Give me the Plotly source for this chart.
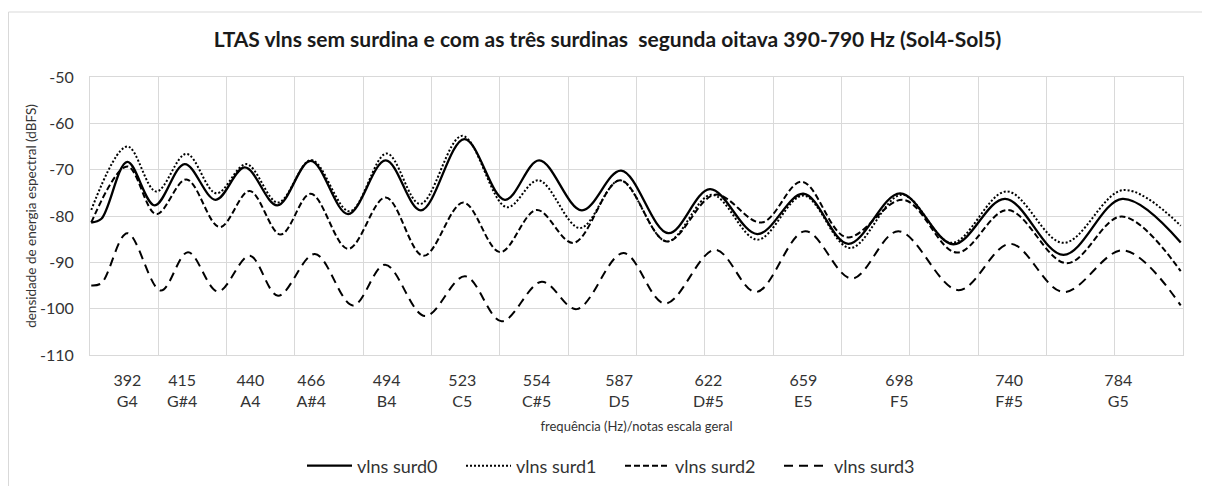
import plotly.graph_objects as go

# ---- data (frequency in Hz, level in dBFS) ----
surd0_f = [377.3, 381.3, 391.5, 402.3, 414.1, 426.3, 437.8, 450.6, 463.8, 478.5, 493.3, 507.2, 524.3, 540.3,
           553.8, 570.6, 586.1, 604.7, 621.1, 639.8, 657.9, 675.6, 696.0, 717.0, 737.4, 760.4, 783.6, 806.6]
surd0_db = [-81.4, -80.6, -68.3, -77.7, -68.8, -76.5, -69.5, -77.7, -68.1, -79.6, -68.0, -78.8, -63.4, -76.5,
            -68.0, -78.8, -70.2, -83.7, -74.2, -83.9, -75.2, -86.0, -75.1, -86.1, -76.3, -88.4, -76.3, -85.7]

surd1_f = [377.3, 391.5, 402.9, 414.8, 426.6, 438.4, 450.9, 464.0, 479.1, 493.7, 506.9, 523.5, 541.0, 553.5,
           569.9, 585.7, 604.1, 621.8, 639.8, 657.9, 676.3, 696.7, 716.4, 738.0, 760.4, 784.0, 806.6]
surd1_db = [-78.7, -65.0, -74.7, -66.6, -75.1, -68.8, -77.1, -67.9, -79.0, -66.5, -77.4, -62.7, -78.1, -72.3,
            -82.6, -72.3, -85.5, -75.4, -85.1, -75.6, -86.9, -75.4, -85.8, -74.7, -85.8, -74.4, -82.1]

surd2_f = [377.3, 391.5, 402.9, 414.8, 427.9, 439.7, 451.9, 463.8, 478.5, 493.3, 508.2, 523.9, 538.4, 552.8,
           567.3, 585.7, 604.1, 623.1, 641.5, 657.3, 675.0, 697.3, 718.4, 738.4, 761.7, 783.4, 806.6]
surd2_db = [-81.4, -69.3, -79.6, -72.1, -82.4, -74.6, -84.0, -75.2, -87.1, -76.0, -88.6, -77.1, -87.8, -78.7,
            -85.8, -72.3, -85.5, -75.4, -81.4, -72.6, -84.6, -76.5, -87.9, -78.7, -90.2, -80.1, -91.9]

surd3_f = [377.3, 381.3, 391.5, 404.7, 415.4, 427.2, 439.7, 450.9, 465.4, 480.4, 493.1, 508.8, 524.6, 539.0,
           554.8, 568.6, 587.0, 603.4, 623.1, 639.3, 658.6, 677.0, 695.3, 719.0, 739.4, 760.4, 784.0, 806.6]
surd3_db = [-95.0, -94.5, -83.7, -96.1, -87.8, -96.3, -88.6, -97.2, -88.2, -99.3, -90.5, -101.6, -93.0, -102.7,
            -94.2, -100.1, -88.0, -98.9, -87.3, -96.4, -83.3, -93.5, -83.3, -96.0, -86.0, -96.4, -87.4, -99.3]

# category labels: nominal frequency, note name, and the frequency bin they sit on
label_hz = ["392", "415", "440", "466", "494", "523", "554", "587", "622", "659", "698", "740", "784"]
label_note = ["G4", "G#4", "A4", "A#4", "B4", "C5", "C#5", "D5", "D#5", "E5", "F5", "F#5", "G5"]
label_bin_f = [391.5, 413.1, 440.0, 464.0, 493.7, 523.5, 552.8, 585.3, 620.5, 657.9, 695.7, 739.0, 782.0]

y_ticks = [-110, -100, -90, -80, -70, -60, -50]

series_names = ["vlns surd0", "vlns surd1", "vlns surd2", "vlns surd3"]

# ---- figure ----
FONT = "Lato"
TXT = "#333333"
GRID = "#d9d9d9"
x_lo, x_hi, x_step = 376.8, 807.5, 26.917

ML, MT, PW, PH = 82, 69, 1093, 278  # plot area (page body adds an 8px offset)

fig = go.Figure()
styles = [
    dict(dash="solid", width=2.3),
    dict(dash="2px,2px", width=2),
    dict(dash="6px,3px", width=2),
    dict(dash="9px,6px", width=2),
]
for name, fx, fy, st in zip(series_names, [surd0_f, surd1_f, surd2_f, surd3_f],
                            [surd0_db, surd1_db, surd2_db, surd3_db], styles):
    fig.add_trace(go.Scatter(x=fx, y=fy, name=name, mode="lines",
                             line=dict(color="black", shape="spline", smoothing=1.0, **st),
                             hoverinfo="skip"))

# invisible trace on the label axis so it is rendered
fig.add_trace(go.Scatter(x=[x_lo, x_hi], y=[-110, -110], xaxis="x2", mode="lines",
                         line=dict(color="rgba(0,0,0,0)"), showlegend=False, hoverinfo="skip"))

fig.update_layout(
    width=1210, height=486,
    margin=dict(l=ML, r=1210 - ML - PW, t=MT, b=486 - MT - PH, autoexpand=False),
    paper_bgcolor="white", plot_bgcolor="white",
    font=dict(family=FONT, color=TXT),
    title=dict(text="<b>LTAS vlns sem surdina e com as três surdinas  segunda oitava 390-790 Hz (Sol4-Sol5)</b>",
               x=599.5 / 1210, xref="container", xanchor="center",
               y=1 - 32 / 486, yref="container", yanchor="middle",
               font=dict(family=FONT, size=21, color="#1a1a1a")),
    xaxis=dict(range=[x_lo, x_hi], tick0=x_lo, dtick=x_step, showgrid=True, gridcolor=GRID, gridwidth=1,
               showticklabels=False, zeroline=False, showline=True, linecolor=GRID, mirror=True, ticks=""),
    xaxis2=dict(range=[x_lo, x_hi], overlaying="x", anchor="y", side="bottom", showgrid=False,
                tickmode="array", tickvals=label_bin_f,
                ticktext=[f"{h}<br>{n}" for h, n in zip(label_hz, label_note)],
                ticks="outside", ticklen=11, tickcolor="rgba(0,0,0,0)",
                tickfont=dict(family=FONT, size=16, color=TXT), zeroline=False, showline=False,
                title=dict(text="frequência (Hz)/notas escala geral", standoff=12,
                           font=dict(family=FONT, size=13, color=TXT))),
    yaxis=dict(range=[-110, -50], tickmode="array", tickvals=y_ticks, ticktext=[str(v) for v in y_ticks],
               showgrid=True, gridcolor=GRID, zeroline=False,
               showline=True, linecolor=GRID, mirror=True, ticks="outside", ticklen=12,
               tickcolor="rgba(0,0,0,0)", tickfont=dict(family=FONT, size=16, color=TXT),
               title=dict(text="densidade de energia espectral (dBFS)", standoff=0,
                          font=dict(family=FONT, size=13.5, color=TXT))),
    legend=dict(orientation="h", x=(612 - ML) / PW, xanchor="center",
                y=-(458 - MT - PH) / PH, yanchor="middle",
                font=dict(family=FONT, size=18, color=TXT), bgcolor="rgba(0,0,0,0)",
                entrywidth=99, entrywidthmode="pixels", itemwidth=45),
    showlegend=True,
    shapes=[dict(type="rect", xref="paper", yref="paper",
                 x0=(0.5 - ML) / PW, x1=1.1, y0=-0.7, y1=(MT + PH - 4) / PH,
                 line=dict(color=GRID, width=1), fillcolor="rgba(0,0,0,0)", layer="below")],
)

fig.write_html("out.html")
